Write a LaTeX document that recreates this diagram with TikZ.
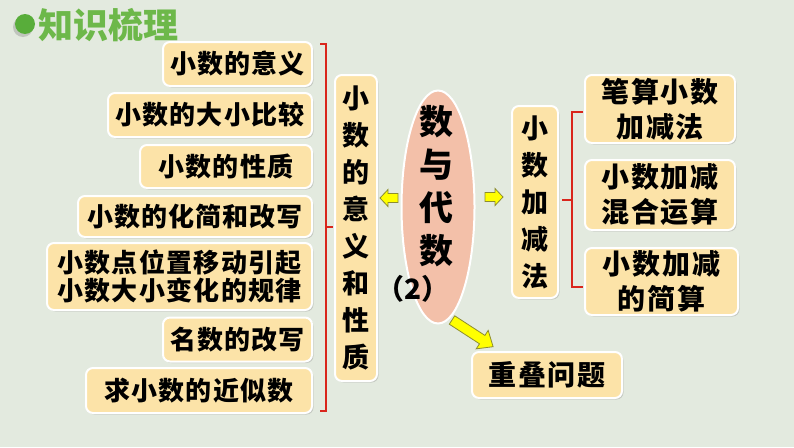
\documentclass[tikz,border=0pt]{standalone}
\usepackage{fontspec}
\setmainfont{Noto Sans CJK SC}
\usetikzlibrary{shapes.geometric,shadows}
\definecolor{bg}{HTML}{E3EADF}
\definecolor{boxfill}{HTML}{FCE3A8}
\definecolor{ellfill}{HTML}{F3C0A9}
\definecolor{ttlgreen}{HTML}{6DB84A}
\definecolor{bulgreen}{HTML}{58AD3A}
\definecolor{brred}{HTML}{D9261C}
\definecolor{arrfill}{HTML}{FFFF00}
\definecolor{arrline}{HTML}{8C8C30}
\tikzset{
  box/.style={rectangle, rounded corners=7pt, fill=boxfill, draw=white, line width=2pt,
    inner sep=0pt, align=center, text=black,
    drop shadow={shadow xshift=1.5pt, shadow yshift=-1.5pt, opacity=0.3}},
  ltxt/.style={font=\fontsize{26}{28}\selectfont\bfseries\addfontfeatures{LetterSpace=4}},
  vtxt/.style={font=\fontsize{27}{37}\selectfont\bfseries},
  rtxt/.style={font=\fontsize{28}{35}\selectfont\bfseries\addfontfeatures{LetterSpace=7}},
  bracket/.style={draw=brred, line width=2pt},
  yarr/.style={fill=arrfill, draw=arrline, line width=0.8pt, line join=miter}
}
\begin{document}
\begin{tikzpicture}[x=1pt,y=-1pt]
\useasboundingbox (0,0) rectangle (794,447);
\fill[bg] (0,0) rectangle (794,447);
% title
\node[circle, fill=bulgreen, minimum size=20pt, inner sep=0pt,
  drop shadow={shadow xshift=-2pt, shadow yshift=-3pt, opacity=0.35}] (bul) at (25,24) {};
\node[font=\fontsize{35}{38}\selectfont\bfseries, text=ttlgreen, anchor=west, inner sep=0pt] (ttl) at (38,25) {知识梳理};
% left boxes
\node[box, ltxt, minimum width=149pt, minimum height=44pt] (b1) at (237.5,64) {小数的意义};
\node[box, ltxt, minimum width=204pt, minimum height=44pt] (b2) at (210,115) {小数的大小比较};
\node[box, ltxt, minimum width=172pt, minimum height=43pt] (b3) at (226,166.5) {小数的性质};
\node[box, ltxt, minimum width=234pt, minimum height=41pt] (b4) at (195,216.5) {小数的化简和改写};
\node[box, minimum width=265pt, minimum height=67pt,
  font=\fontsize{26}{28}\selectfont\bfseries\addfontfeatures{LetterSpace=5}] (b5) at (179.5,276.5) {小数点位置移动引起\\小数大小变化的规律};
\node[box, ltxt, minimum width=149pt, minimum height=44pt] (b6) at (237.5,339.5) {名数的改写};
\node[box, ltxt, minimum width=226pt, minimum height=45pt] (b7) at (199,390.5) {求小数的近似数};
% left bracket
\draw[bracket] (320,44) -- (326,44) -- (326,411) -- (320,411);
\draw[bracket] (326,227) -- (333,227);
% vertical box 1
\node[box, vtxt, minimum width=42pt, minimum height=306pt] (v1) at (356,228) {小\\数\\的\\意\\义\\和\\性\\质};
% centre ellipse
\node[ellipse, fill=ellfill, draw=white, line width=2pt, minimum width=73pt, minimum height=233pt, inner sep=0pt] (ell) at (438,207) {};
\node[font=\fontsize{34}{43}\selectfont\bfseries, align=center, inner sep=0pt] (elltxt) at (436,186) {数\\与\\代\\数};
\node[font=\fontsize{28}{30}\selectfont\bfseries, inner sep=0pt] (two) at (413,289) {（2）};
% arrows
\begin{scope}[shift={(380,198)}]
  \filldraw[yarr] (0,0) -- (8,-8.5) -- (8,-4.5) -- (18,-4.5) -- (18,4.5) -- (8,4.5) -- (8,8.5) -- cycle;
\end{scope}
\begin{scope}[shift={(503,197)}]
  \filldraw[yarr] (0,0) -- (-8,-8.5) -- (-8,-4.5) -- (-18,-4.5) -- (-18,4.5) -- (-8,4.5) -- (-8,8.5) -- cycle;
\end{scope}
\begin{scope}[shift={(452,320)}, rotate=-33]
  \filldraw[yarr] (0,-5) -- (36,-5) -- (36,-11) -- (49,0) -- (36,11) -- (36,5) -- (0,5) -- cycle;
\end{scope}
% vertical box 2
\node[box, vtxt, minimum width=46pt, minimum height=192pt] (v2) at (535,202) {小\\数\\加\\减\\法};
% right bracket
\draw[bracket] (583,112) -- (572,112) -- (572,287) -- (583,287);
\draw[bracket] (572,200) -- (562,200);
% right boxes
\node[box, rtxt, minimum width=150pt, minimum height=68pt] (r1) at (660,109) {笔算小数\\加减法};
\node[box, rtxt, minimum width=150pt, minimum height=70pt] (r2) at (660,195) {小数加减\\混合运算};
\node[box, rtxt, minimum width=153pt, minimum height=67pt] (r3) at (661.5,281.5) {小数加减\\的简算};
% bottom box
\node[box, rtxt, minimum width=150pt, minimum height=46pt] (bt) at (547,375) {重叠问题};
\end{tikzpicture}
\end{document}
